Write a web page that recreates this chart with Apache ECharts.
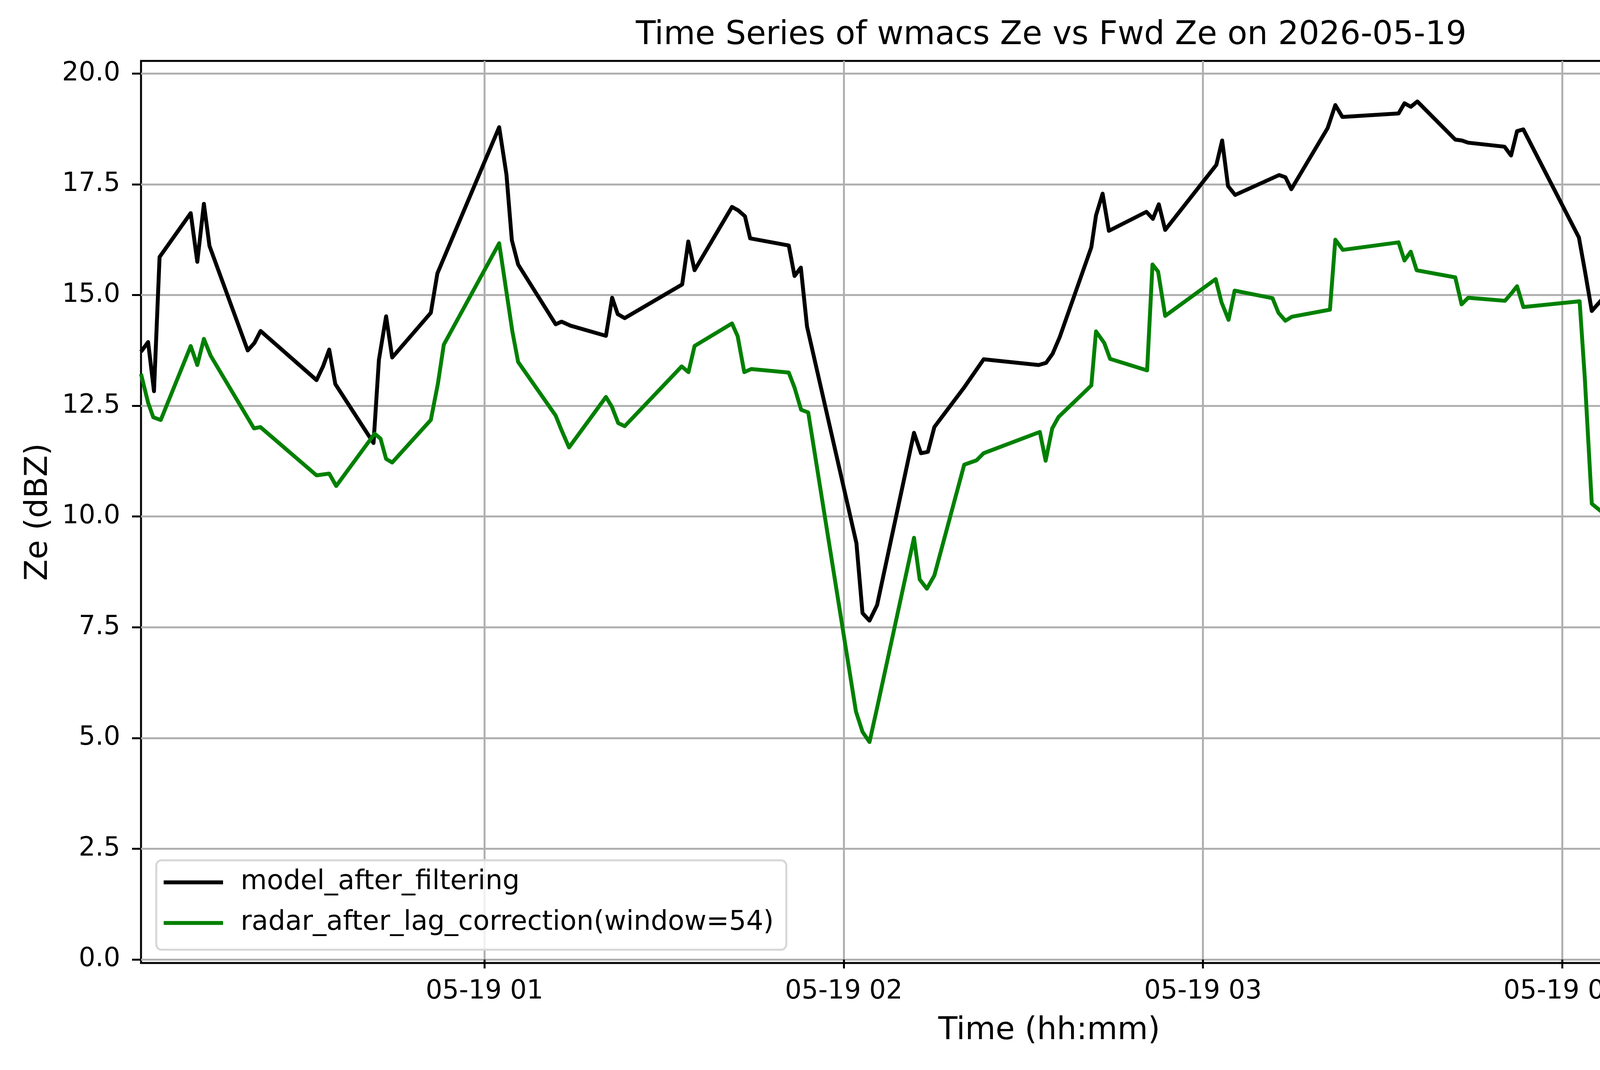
<!DOCTYPE html>
<html>
<head>
<meta charset="utf-8">
<script src="https://cdn.jsdelivr.net/npm/echarts@6/dist/echarts.min.js"></script>
<style>
html,body{margin:0;padding:0;background:#fff}
#box{width:5127px;height:2740px}
</style>
</head>
<body>
<div id="box"></div>
<script>
// values
var modelTimes=['00:02:38','00:03:49','00:04:48','00:05:44','00:10:56','00:12:02','00:13:08','00:14:04','00:20:27','00:21:35',
  '00:22:36','00:31:57','00:33:02','00:34:04','00:35:05','00:41:28','00:42:22','00:43:34','00:44:35','00:51:02',
  '00:52:08','01:02:27','01:03:40','01:04:34','01:05:37','01:11:53','01:12:52','01:14:21','01:20:17','01:21:19',
  '01:22:15','01:23:25','01:33:01','01:34:02','01:35:05','01:41:20','01:42:24','01:43:30','01:44:22','01:50:49',
  '01:51:47','01:52:50','01:53:52','02:02:07','02:03:08','02:04:18','02:05:34','02:11:44','02:12:54','02:14:03',
  '02:15:08','02:20:02','02:23:22','02:32:33','02:33:48','02:34:54','02:36:04','02:41:21','02:42:08','02:43:14',
  '02:44:17','02:50:33','02:51:38','02:52:37','02:53:41','03:02:14','03:03:12','03:04:11','03:05:22','03:12:43',
  '03:13:46','03:14:45','03:20:49','03:22:06','03:23:17','03:32:40','03:33:39','03:34:42','03:35:48','03:42:08',
  '03:43:14','03:44:17','03:50:21','03:51:27','03:52:27','03:53:30','04:02:47','04:03:46','04:04:56','04:11:11',
  '04:12:10','04:13:20','04:14:19','04:20:46','04:21:45','04:22:44','04:23:54','04:32:19','04:34:16','04:35:22',
  '04:41:43','04:42:36','04:43:50','04:44:51','04:50:06','04:51:11','04:53:10','05:02:43','05:03:48','05:04:51',
  '05:05:48'];
var modelZe=[13.72,13.94,12.83,15.86,16.85,15.75,17.06,16.11,13.75,13.92,
  14.19,13.08,13.39,13.77,12.99,11.66,13.54,14.52,13.59,14.60,
  15.49,18.79,17.72,16.24,15.69,14.34,14.40,14.31,14.08,14.94,
  14.57,14.48,15.24,16.21,15.56,16.99,16.91,16.78,16.28,16.12,
  15.43,15.62,14.29,9.40,7.82,7.65,8.00,11.89,11.43,11.46,
  12.02,12.90,13.55,13.42,13.47,13.68,14.05,16.08,16.80,17.29,
  16.45,16.88,16.72,17.05,16.47,17.94,18.49,17.46,17.26,17.71,
  17.66,17.39,18.77,19.29,19.02,19.10,19.33,19.25,19.37,18.51,
  18.49,18.44,18.35,18.15,18.70,18.74,16.30,15.56,14.64,15.60,
  13.94,14.08,14.44,14.01,14.58,13.26,13.09,14.31,11.27,11.10,
  14.42,14.20,13.66,10.89,11.45,12.02,11.04,7.03,7.16,6.76,
  4.58];

var radarTimes=['00:02:38','00:03:49','00:04:41','00:05:56','00:10:56','00:12:02','00:13:08','00:14:16','00:21:30','00:22:34',
  '00:31:57','00:34:04','00:35:14','00:41:39','00:42:38','00:43:34','00:44:35','00:51:02','00:52:13','00:53:12',
  '01:02:27','01:04:39','01:05:37','01:11:53','01:12:52','01:14:07','01:20:17','01:21:16','01:22:20','01:23:25',
  '01:32:56','01:34:04','01:35:05','01:41:20','01:42:17','01:43:23','01:44:33','01:50:49','01:51:47','01:52:53',
  '01:54:04','02:02:02','02:03:08','02:04:18','02:05:34','02:11:44','02:12:41','02:13:53','02:15:08','02:20:07',
  '02:22:11','02:23:22','02:32:45','02:33:43','02:34:49','02:35:53','02:41:21','02:42:08','02:43:30','02:44:29',
  '02:50:40','02:51:34','02:52:30','02:53:41','03:02:07','03:03:05','03:04:16','03:05:17','03:11:37','03:12:36',
  '03:13:46','03:14:50','03:21:12','03:22:06','03:23:22','03:32:40','03:33:39','03:34:42','03:35:41','03:42:08',
  '03:43:11','03:44:17','03:50:26','03:51:31','03:52:27','03:53:30','04:02:54','04:03:46','04:04:56','04:11:16',
  '04:12:10','04:13:16','04:14:19','04:20:46','04:21:40','04:24:06','04:32:31','04:33:18','04:34:16','04:41:57',
  '04:42:48','04:43:42','04:44:45','04:50:06','04:50:58','04:52:13','04:53:15','05:02:45','05:03:35','05:04:34',
  '05:05:48'];
var radarZe=[13.22,12.57,12.24,12.18,13.85,13.42,14.01,13.63,11.99,12.02,
  10.93,10.97,10.69,11.87,11.76,11.30,11.22,12.18,13.00,13.88,
  16.17,14.18,13.49,12.28,11.95,11.56,12.70,12.48,12.11,12.04,
  13.39,13.26,13.85,14.36,14.07,13.26,13.33,13.25,12.91,12.41,
  12.35,5.60,5.14,4.91,5.68,9.52,8.58,8.37,8.67,11.17,
  11.27,11.43,11.91,11.26,11.99,12.25,12.96,14.18,13.92,13.56,
  13.30,15.69,15.53,14.53,15.36,14.84,14.44,15.10,14.93,14.60,
  14.42,14.51,14.67,16.25,16.02,16.19,15.78,15.98,15.56,15.40,
  14.79,14.94,14.87,15.04,15.20,14.73,14.86,13.13,10.29,9.59,
  10.98,10.61,11.68,12.10,10.77,10.27,8.85,7.69,8.34,9.79,
  10.90,9.29,9.13,8.03,8.41,8.58,8.33,3.75,2.87,2.26,
  0.85];

var hourTicks=['01:00:00','02:00:00','03:00:00','04:00:00','05:00:00'];
var yTicks=[0,2.5,5,7.5,10,12.5,15,17.5,20];
var xStart='00:02:38', xEnd='05:06:00';

var toMs=function(t){
  var p=t.split(':');
  return new Date(2026,4,19,+p[0],+p[1],+p[2]).getTime();
};
var pairs=function(ts,vs){
  return ts.map(function(t,i){ return [toMs(t),vs[i]]; });
};
var pad=function(n){return (n<10?'0':'')+n;};

var FONT='DejaVu Sans';
var mychart=echarts.init(document.getElementById('box'),null,{renderer:'canvas',width:5127,height:2740});

var option={
  animation:false,
  backgroundColor:'#fff',
  textStyle:{fontFamily:FONT},
  title:{
    text:'Time Series of wmacs Ze vs Fwd Ze on 2026-05-19',
    left:2686,
    top:45,
    textAlign:'center',
    textStyle:{fontFamily:FONT,fontSize:83,fontWeight:'normal',color:'#000'}
  },
  grid:{
    left:361,right:116,top:156,bottom:274,
    show:true,borderColor:'#000',borderWidth:5,backgroundColor:'transparent'
  },
  legend:{
    orient:'vertical',
    left:400,top:2203,
    icon:'rect',
    itemWidth:152,itemHeight:10,itemGap:35,
    padding:[22,32,34,19],
    backgroundColor:'rgba(255,255,255,0.8)',
    borderColor:'#d6d6d6',borderWidth:5,borderRadius:14,
    textStyle:{fontFamily:FONT,fontSize:69,color:'#000',lineHeight:68,padding:[0,0,0,40]},
    data:['model_after_filtering','radar_after_lag_correction(window=54)']
  },
  xAxis:{
    type:'value',
    min:toMs(xStart),
    max:toMs(xEnd),
    name:'Time (hh:mm)',
    nameLocation:'middle',
    nameGap:134,
    nameTextStyle:{fontFamily:FONT,fontSize:80,color:'#000'},
    axisLine:{show:false},
    axisTick:{show:true,inside:false,length:23,lineStyle:{color:'#000',width:5},customValues:hourTicks.map(toMs)},
    axisLabel:{
      customValues:hourTicks.map(toMs),
      margin:40,
      fontFamily:FONT,fontSize:67,color:'#000',
      formatter:function(v){
        var d=new Date(v);
        return pad(d.getMonth()+1)+'-'+pad(d.getDate())+' '+pad(d.getHours());
      }
    },
    splitLine:{show:true,lineStyle:{color:'#b0b0b0',width:5}}
  },
  yAxis:{
    type:'value',
    min:-0.079,
    max:20.286,
    name:'Ze (dBZ)',
    nameLocation:'middle',
    nameGap:222,
    nameRotate:90,
    nameTextStyle:{fontFamily:FONT,fontSize:80,color:'#000'},
    axisLine:{show:false},
    axisTick:{show:true,inside:false,length:23,lineStyle:{color:'#000',width:5},customValues:yTicks},
    axisLabel:{
      customValues:yTicks,
      margin:53,
      fontFamily:FONT,fontSize:67,color:'#000',
      formatter:function(v){return v.toFixed(1);}
    },
    splitLine:{show:true,lineStyle:{color:'#b0b0b0',width:5}}
  },
  series:[{
    name:'model_after_filtering',
    type:'line',
    data:pairs(modelTimes,modelZe),
    showSymbol:false,
    color:'#000000',
    lineStyle:{color:'#000000',width:10,join:'round'}
  },{
    name:'radar_after_lag_correction(window=54)',
    type:'line',
    data:pairs(radarTimes,radarZe),
    showSymbol:false,
    color:'#008000',
    lineStyle:{color:'#008000',width:10,join:'round'}
  }]
};
mychart.setOption(option);
</script>
</body>
</html>
